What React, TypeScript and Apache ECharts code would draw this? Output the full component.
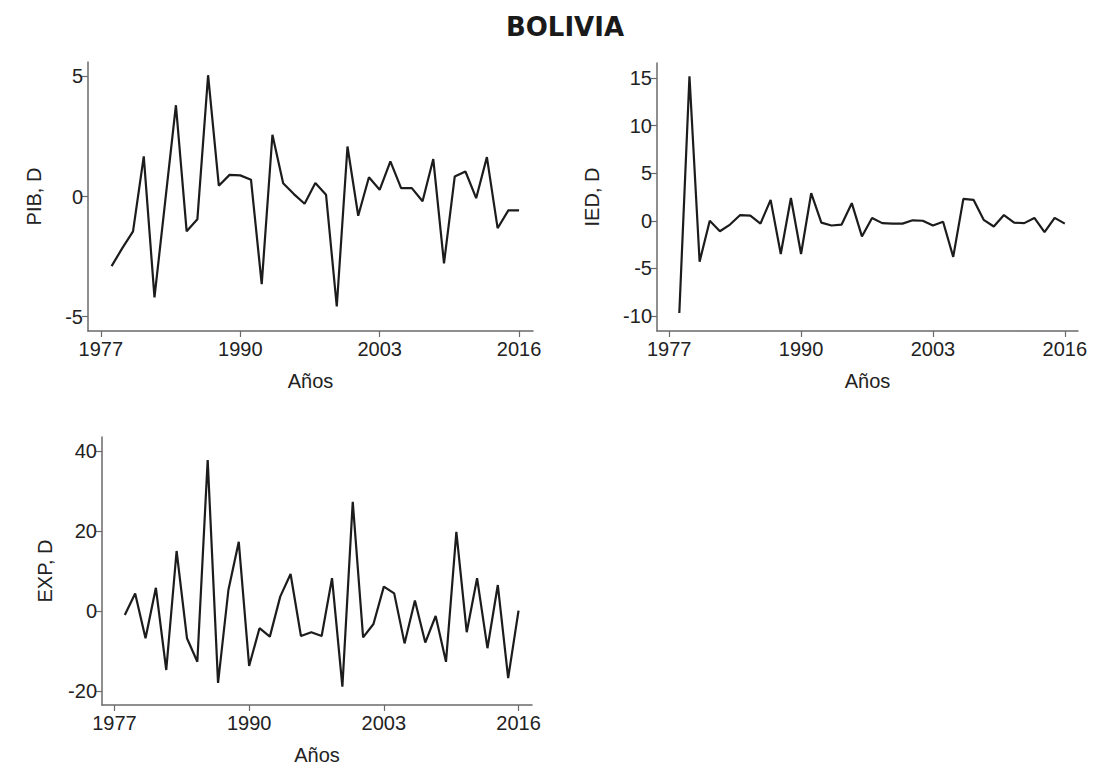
import React, { useEffect, useRef } from "react";
import * as echarts from "echarts";

// Years of the differenced series
const years: number[] = [
  1978, 1979, 1980, 1981, 1982, 1983, 1984, 1985, 1986, 1987, 1988, 1989, 1990,
  1991, 1992, 1993, 1994, 1995, 1996, 1997, 1998, 1999, 2000, 2001, 2002, 2003,
  2004, 2005, 2006, 2007, 2008, 2009, 2010, 2011, 2012, 2013, 2014, 2015, 2016,
];

// PIB, first difference
const pib: number[] = [
  -2.9, -2.15, -1.45, 1.67, -4.2, -0.2, 3.8, -1.45, -0.95, 5.05, 0.45, 0.9, 0.88,
  0.7, -3.65, 2.57, 0.55, 0.1, -0.3, 0.56, 0.07, -4.58, 2.08, -0.8, 0.8, 0.28,
  1.46, 0.35, 0.35, -0.2, 1.56, -2.78, 0.83, 1.04, -0.07, 1.64, -1.32, -0.58, -0.58,
];

// IED, first difference
const ied: number[] = [
  -9.7, 15.2, -4.3, 0.0, -1.1, -0.4, 0.6, 0.55, -0.3, 2.2, -3.5, 2.4, -3.5,
  2.9, -0.2, -0.5, -0.4, 1.85, -1.65, 0.3, -0.25, -0.3, -0.3, 0.05, 0.0, -0.5,
  -0.1, -3.8, 2.3, 2.2, 0.1, -0.6, 0.6, -0.2, -0.25, 0.3, -1.2, 0.3, -0.3,
];

// EXP, first difference
const exp: number[] = [
  -1.0, 4.4, -6.8, 5.8, -14.75, 15.0, -6.8, -12.7, 37.75, -18.0, 5.25, 17.3, -13.75,
  -4.3, -6.4, 3.6, 9.25, -6.25, -5.3, -6.25, 8.2, -18.9, 27.3, -6.6, -3.25, 6.1,
  4.4, -8.1, 2.6, -7.9, -1.25, -12.7, 19.8, -5.3, 8.2, -9.3, 6.5, -16.8, 0.1,
];

const xTicks: number[] = [1977, 1990, 2003, 2016];
const pibTicks: number[] = [-5, 0, 5];
const iedTicks: number[] = [-10, -5, 0, 5, 10, 15];
const expTicks: number[] = [-20, 0, 20, 40];

const FONT = "Liberation Sans, Arial, sans-serif";
const TITLE_FONT = "DejaVu Sans, Verdana, sans-serif";
const TEXT = "#222";
const AXIS = "#6a6a6a";
const FS = 20;

const pairs = (vals: number[]) => years.map((y, i) => [y, vals[i]]);

function xAxis(gridIndex: number) {
  return {
    type: "value" as const,
    gridIndex,
    min: 1975.8,
    max: 2017.3,
    name: "Años",
    nameLocation: "middle" as const,
    nameGap: 40,
    nameTextStyle: { color: TEXT, fontSize: FS, fontFamily: FONT },
    axisLine: { show: true, onZero: false, lineStyle: { color: AXIS, width: 1.5 } },
    axisTick: { show: true, length: 6, customValues: xTicks, lineStyle: { color: AXIS, width: 1.2 } },
    axisLabel: {
      customValues: xTicks,
      margin: 8,
      color: TEXT,
      fontSize: FS,
      fontFamily: FONT,
      formatter: (v: number) => String(v),
    },
    splitLine: { show: false },
  };
}

function yAxis(gridIndex: number, name: string, min: number, max: number, ticks: number[], gap: number) {
  return {
    type: "value" as const,
    gridIndex,
    min,
    max,
    name,
    nameLocation: "middle" as const,
    nameGap: gap,
    nameTextStyle: { color: TEXT, fontSize: FS, fontFamily: FONT },
    axisLine: { show: true, onZero: false, lineStyle: { color: AXIS, width: 1.5 } },
    axisTick: { show: true, length: 6, customValues: ticks, lineStyle: { color: AXIS, width: 1.2 } },
    axisLabel: {
      customValues: ticks,
      margin: 5,
      color: TEXT,
      fontSize: FS,
      fontFamily: FONT,
      formatter: (v: number) => String(v),
    },
    splitLine: { show: false },
  };
}

function line(idx: number, vals: number[]) {
  return {
    type: "line" as const,
    xAxisIndex: idx,
    yAxisIndex: idx,
    data: pairs(vals),
    showSymbol: false,
    symbol: "none",
    lineStyle: { color: "#1c1c1c", width: 2.2 },
  };
}

export default function App() {
  const ref = useRef<HTMLDivElement>(null);

  useEffect(() => {
    if (!ref.current) return;
    const chart = echarts.init(ref.current, undefined, { renderer: "svg" });
    chart.setOption({
      animation: false,
      backgroundColor: "#ffffff",
      graphic: [
        {
          type: "text",
          x: 565,
          y: 27,
          style: {
            text: "BOLIVIA",
            fill: "#1a1a1a",
            font: `bold 26px ${TITLE_FONT}`,
            textAlign: "center",
            textVerticalAlign: "middle",
          },
        },
      ],
      grid: [
        { left: 88, top: 62, width: 445, height: 269 },
        { left: 657, top: 63, width: 421, height: 268 },
        { left: 102, top: 437, width: 430, height: 268 },
      ],
      xAxis: [xAxis(0), xAxis(1), xAxis(2)],
      yAxis: [
        yAxis(0, "PIB, D", -5.6, 5.6, pibTicks, 44),
        yAxis(1, "IED, D", -11.6, 16.6, iedTicks, 55),
        yAxis(2, "EXP, D", -23.5, 43.5, expTicks, 47),
      ],
      series: [line(0, pib), line(1, ied), line(2, exp)],
    });
    return () => chart.dispose();
  }, []);

  return (
    <div
      ref={ref}
      style={{ position: "fixed", left: 0, top: 0, width: 1104, height: 769, background: "#fff" }}
    />
  );
}
